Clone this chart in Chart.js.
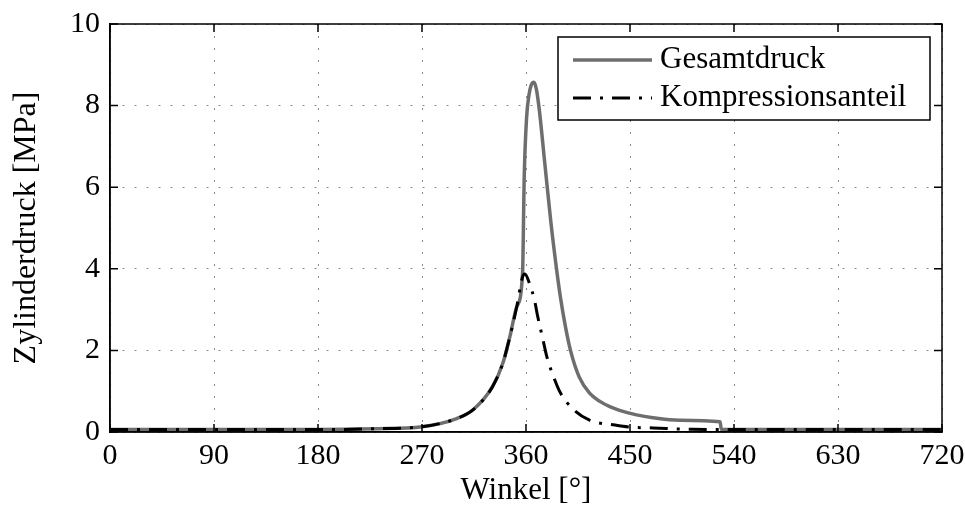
<!DOCTYPE html>
<html>
<head>
<meta charset="utf-8">
<script src="https://cdn.jsdelivr.net/npm/chart.js@4.4.1/dist/chart.umd.min.js"></script>
<style>
  html, body { margin: 0; padding: 0; background: #fff; }
  #wrap { width: 965px; height: 505px; }
</style>
</head>
<body>
<div id="wrap"><canvas id="druck-chart"></canvas></div>
<script>
// Zylinderdruck über Kurbelwinkel

// Gesamtdruck
const gesamtWinkel = [0, 90, 180, 230, 270, 300, 314, 331, 340, 346, 352, 357, 358.5, 360.5, 362.5, 364.5, 366.8, 369, 371.5, 376, 381.5, 386.4, 389.8, 394, 398.5, 406, 415, 424, 432.5, 441, 455.6, 470, 493, 528, 529, 600, 720];
const gesamtDruck = [0.06, 0.06, 0.06, 0.08, 0.13, 0.33, 0.54, 1.11, 1.69, 2.33, 3.07, 3.88, 6.3, 7.7, 8.25, 8.5, 8.57, 8.4, 7.9, 6.66, 5.15, 4.0, 3.3, 2.6, 2.0, 1.35, 0.95, 0.75, 0.62, 0.53, 0.42, 0.35, 0.29, 0.25, 0.06, 0.06, 0.06];

// Kompressionsanteil
const kompWinkel = [0, 90, 180, 230, 270, 300, 314, 331, 340, 346, 352, 357, 359, 363, 367.6, 370, 374.8, 378, 385, 390, 401.5, 415, 437, 450, 470, 504, 600, 720];
const kompDruck = [0.06, 0.06, 0.06, 0.08, 0.13, 0.33, 0.54, 1.11, 1.69, 2.33, 3.07, 3.8, 3.87, 3.64, 3.2, 2.85, 2.25, 1.85, 1.27, 0.95, 0.54, 0.29, 0.17, 0.12, 0.1, 0.066, 0.06, 0.06];

const xTicks = [0, 90, 180, 270, 360, 450, 540, 630, 720];
const yTicks = [0, 2, 4, 6, 8, 10];

const serif = '"Liberation Serif", "DejaVu Serif", serif';

function toPoints(xs, ys) {
    return xs.map((x, i) => ({ x: x, y: ys[i] }));
}

// box, inward ticks and legend inside the plot area
const frame = {
    id: 'frame',
    afterDatasetsDraw(chart) {
        const { ctx, chartArea: a, scales } = chart;
        ctx.save();
        ctx.strokeStyle = '#000';
        ctx.lineWidth = 1.5;
        ctx.setLineDash([]);
        ctx.strokeRect(a.left, a.top, a.right - a.left, a.bottom - a.top);
        ctx.beginPath();
        xTicks.forEach(v => {
            const px = scales.x.getPixelForValue(v);
            ctx.moveTo(px, a.bottom); ctx.lineTo(px, a.bottom - 8);
            ctx.moveTo(px, a.top); ctx.lineTo(px, a.top + 8);
        });
        yTicks.forEach(v => {
            const py = scales.y.getPixelForValue(v);
            ctx.moveTo(a.left, py); ctx.lineTo(a.left + 8, py);
            ctx.moveTo(a.right, py); ctx.lineTo(a.right - 8, py);
        });
        ctx.stroke();

        // legend
        const lx = a.right - 384, ly = a.top + 13, lw = 372, lh = 83;
        ctx.fillStyle = '#fff';
        ctx.fillRect(lx, ly, lw, lh);
        ctx.lineWidth = 1.5;
        ctx.strokeRect(lx, ly, lw, lh);
        const items = chart.data.datasets;
        items.forEach((ds, i) => {
            const y = ly + 23 + i * 38;
            ctx.beginPath();
            ctx.strokeStyle = ds.borderColor;
            ctx.lineWidth = ds.borderWidth;
            ctx.setLineDash(ds.borderDash || []);
            ctx.moveTo(lx + 15, y);
            ctx.lineTo(lx + 94, y);
            ctx.stroke();
            ctx.setLineDash([]);
            ctx.fillStyle = '#000';
            ctx.font = '31px ' + serif;
            ctx.textBaseline = 'middle';
            ctx.textAlign = 'left';
            ctx.fillText(ds.label, lx + 102, y);
        });
        ctx.restore();
    }
};

const ctx = document.getElementById('druck-chart').getContext('2d');
new Chart(ctx, {
    type: 'line',
    data: {
        datasets: [{
            label: 'Gesamtdruck',
            data: toPoints(gesamtWinkel, gesamtDruck),
            borderColor: '#6e6e6e',
            borderWidth: 3.5,
            pointRadius: 0,
            cubicInterpolationMode: 'monotone',
            fill: false,
            order: 2
        }, {
            label: 'Kompressionsanteil',
            data: toPoints(kompWinkel, kompDruck),
            borderColor: '#000',
            borderWidth: 3,
            borderDash: [18, 9, 3, 9],
            pointRadius: 0,
            cubicInterpolationMode: 'monotone',
            fill: false,
            order: 1
        }]
    },
    options: {
        responsive: true,
        maintainAspectRatio: false,
        animation: false,
        layout: { padding: { top: 24, right: 23, left: 0, bottom: 0 } },
        plugins: {
            legend: { display: false },
            tooltip: { enabled: false }
        },
        scales: {
            x: {
                type: 'linear',
                min: 0,
                max: 720,
                afterBuildTicks: s => { s.ticks = xTicks.map(v => ({ value: v })); },
                afterFit: s => { s.height = 73; s.paddingLeft = 0; s.paddingRight = 0; },
                grid: { color: '#888', lineWidth: 1, drawTicks: false },
                border: { display: true, color: '#000', width: 1.5, dash: [2, 10] },
                ticks: { color: '#000', font: { family: serif, size: 30 }, padding: 6, maxRotation: 0 },
                title: { display: true, text: 'Winkel [°]', color: '#000', font: { family: serif, size: 31 }, padding: { top: -6, bottom: -4 } }
            },
            y: {
                type: 'linear',
                min: 0,
                max: 10,
                afterBuildTicks: s => { s.ticks = yTicks.map(v => ({ value: v })); },
                afterFit: s => { s.width = 110; s.paddingTop = 0; s.paddingBottom = 0; },
                grid: { color: '#888', lineWidth: 1, drawTicks: false },
                border: { display: true, color: '#000', width: 1.5, dash: [2, 10] },
                ticks: { color: '#000', font: { family: serif, size: 30 }, padding: 10 },
                title: { display: true, text: 'Zylinderdruck [MPa]', color: '#000', font: { family: serif, size: 32 }, padding: { top: 7, bottom: 0 } }
            }
        }
    },
    plugins: [frame]
});
</script>
</body>
</html>
